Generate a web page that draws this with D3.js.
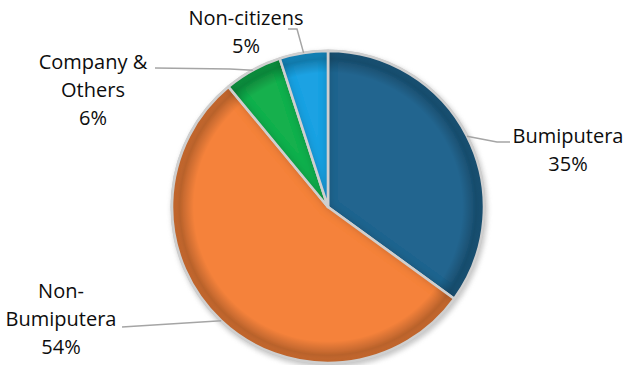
<!DOCTYPE html>
<html>
<head>
<meta charset="utf-8">
<script src="https://cdn.jsdelivr.net/npm/d3@7"></script>
<style>
  html, body { margin: 0; padding: 0; background: #fff; }
  svg { display: block; }
  text { font-family: "Open Sans", "Noto Sans", sans-serif; font-size: 20px; fill: #0d0d0d; }
</style>
</head>
<body>
<svg id="chart" width="625" height="365"></svg>
<script>
// Ownership shares, clockwise from 12 o'clock
const categories = ["Bumiputera", "Non-Bumiputera", "Company & Others", "Non-citizens"];
const shares = [35, 54, 6, 5];
const labelLines = [["Bumiputera"], ["Non-", "Bumiputera"], ["Company &", "Others"], ["Non-citizens"]];
const colors = ["#21658f", "#f5823a", "#14b04d", "#1fa2e3"];

// label block placement (text centre x, first baseline y) and leader elbows
const labelAnchor = [[568, 143], [61, 298], [93, 69], [246, 25]];
const leaderPath = [
  [[497, 142], [510, 142]],
  [[122, 327]],
  [[230, 69], [155, 68]],
  [[297, 29], [288, 29]]
];

const W = 625, H = 365;
const cx = 328, cy = 207, R = 156;
const lineH = 28;

const svg = d3.select("#chart");
const defs = svg.append("defs");

// soft drop shadow under the disc
const sh = defs.append("filter").attr("id", "discShadow")
  .attr("x", "-20%").attr("y", "-20%").attr("width", "140%").attr("height", "140%");
sh.append("feGaussianBlur").attr("stdDeviation", 2.5);

// inner bevel: darken each wedge towards its edges
const bev = defs.append("filter").attr("id", "bevel")
  .attr("x", "-10%").attr("y", "-10%").attr("width", "120%").attr("height", "120%");
bev.append("feGaussianBlur").attr("in", "SourceAlpha").attr("stdDeviation", 5).attr("result", "blur");
bev.append("feComposite").attr("in", "SourceAlpha").attr("in2", "blur")
  .attr("operator", "arithmetic").attr("k2", 1).attr("k3", -1).attr("result", "edge");
bev.append("feFlood").attr("flood-color", "#000").attr("flood-opacity", 0.5).attr("result", "dark");
bev.append("feComposite").attr("in", "dark").attr("in2", "edge").attr("operator", "in").attr("result", "shade");
const bm = bev.append("feMerge");
bm.append("feMergeNode").attr("in", "SourceGraphic");
bm.append("feMergeNode").attr("in", "shade");

// darker band just inside the rim
const rim = defs.append("radialGradient").attr("id", "rimShade")
  .attr("gradientUnits", "userSpaceOnUse").attr("cx", 0).attr("cy", 0).attr("r", R);
rim.append("stop").attr("offset", "0.86").attr("stop-color", "#000").attr("stop-opacity", 0);
rim.append("stop").attr("offset", "0.95").attr("stop-color", "#000").attr("stop-opacity", 0.24);
rim.append("stop").attr("offset", "1").attr("stop-color", "#000").attr("stop-opacity", 0.12);

const g = svg.append("g").attr("transform", `translate(${cx},${cy})`);

g.append("circle").attr("cx", 1.5).attr("cy", 2.5).attr("r", R + 2)
  .attr("fill", "#9a9a9a").attr("opacity", 0.55).attr("filter", "url(#discShadow)");
g.append("circle").attr("r", R + 1.5).attr("fill", "#c8c8c8");

const pie = d3.pie().sort(null).value(d => d);
const arcs = pie(shares);
const arc = d3.arc().innerRadius(0).outerRadius(R);

const slices = g.selectAll("g.slice").data(arcs).join("g").attr("class", "slice");
slices.append("path")
  .attr("d", arc)
  .attr("fill", (d, i) => colors[i])
  .attr("filter", "url(#bevel)");
slices.append("path")
  .attr("d", arc)
  .attr("fill", "url(#rimShade)");
slices.append("path")
  .attr("d", arc)
  .attr("fill", "none")
  .attr("stroke", "#cfcfcf")
  .attr("stroke-width", 2.6)
  .attr("stroke-linejoin", "round");

// leader lines from the middle of each wedge's rim
const line = d3.line();
arcs.forEach((d, i) => {
  const mid = (d.startAngle + d.endAngle) / 2;
  const p0 = [cx + R * Math.sin(mid), cy - R * Math.cos(mid)];
  svg.append("path")
    .attr("d", line([p0, ...leaderPath[i]]))
    .attr("fill", "none")
    .attr("stroke", "#a5a5a5")
    .attr("stroke-width", 1.5);
});

// category labels with percentage
arcs.forEach((d, i) => {
  const [x, y] = labelAnchor[i];
  const lines = [...labelLines[i], d3.format(".0%")(shares[i] / d3.sum(shares))];
  const t = svg.append("text").attr("text-anchor", "middle");
  lines.forEach((s, k) => {
    t.append("tspan").attr("x", x).attr("y", y + k * lineH).text(s);
  });
});
</script>
</body>
</html>
